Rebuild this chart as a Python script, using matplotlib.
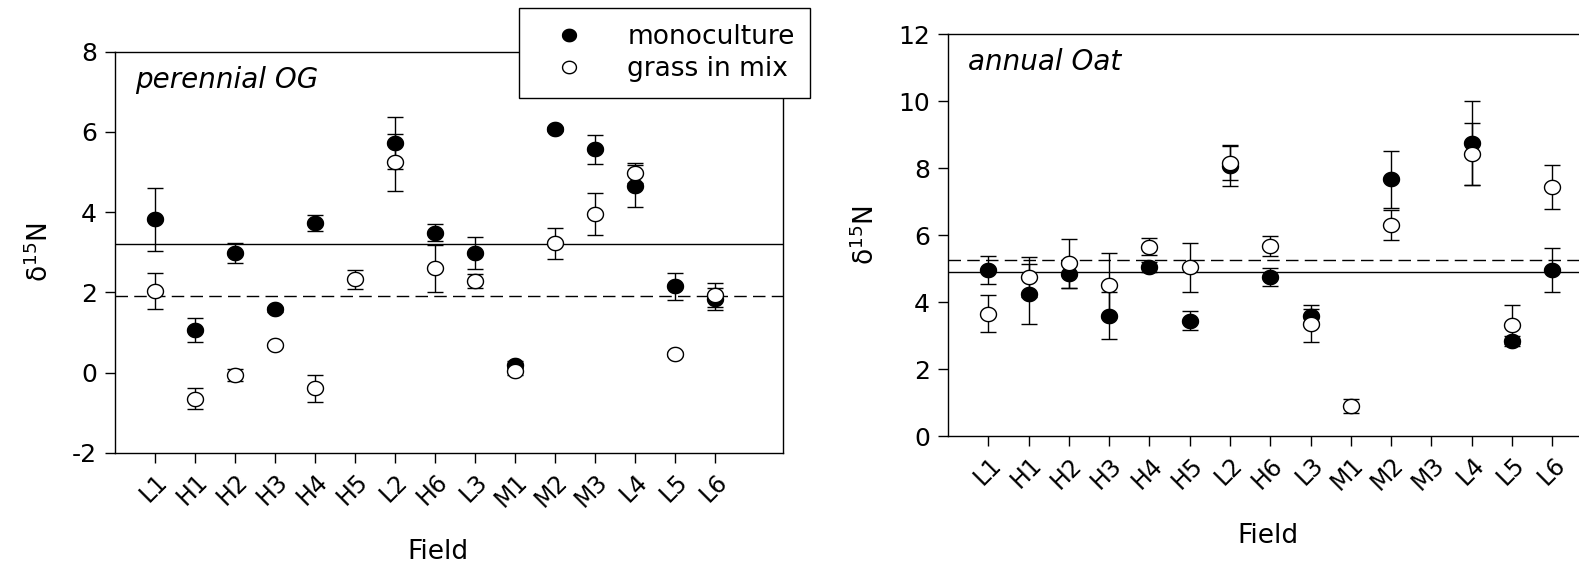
import numpy as np
import matplotlib
matplotlib.use('Agg')
import matplotlib.pyplot as plt
import matplotlib.transforms as mtransforms
from matplotlib.lines import Line2D
from matplotlib.path import Path

plt.rcParams['font.family'] = ['DejaVu Sans']
plt.rcParams['mathtext.fontset'] = 'dejavusans'
plt.rcParams['axes.unicode_minus'] = False

fields = ['L1', 'H1', 'H2', 'H3', 'H4', 'H5', 'L2', 'H6', 'L3', 'M1',
          'M2', 'M3', 'L4', 'L5', 'L6']
nan = np.nan

# perennial orchardgrass
og_mono = [3.82, 1.07, 2.97, 1.58, 3.74, nan, 5.73, 3.49, 2.99, 0.20,
           6.08, 5.57, 4.65, 2.15, 1.83]
og_mono_se = [0.78, 0.30, 0.25, 0.06, 0.20, nan, 0.65, 0.21, 0.40, 0.08,
              0.05, 0.36, 0.52, 0.33, 0.28]
og_mix = [2.04, -0.65, -0.05, 0.68, -0.39, 2.32, 5.24, 2.60, 2.28, 0.05,
          3.22, 3.95, 4.97, 0.47, 1.93]
og_mix_se = [0.45, 0.26, 0.15, 0.04, 0.34, 0.24, 0.72, 0.58, 0.18, 0.10,
             0.38, 0.52, 0.25, 0.05, 0.30]
og_mono_mean = 3.2
og_mix_mean = 1.9

# annual oat
oat_mono = [4.96, 4.24, 4.84, 3.60, 5.06, 3.45, 8.08, 4.76, 3.60, nan,
            7.67, nan, 8.75, 2.85, 4.96]
oat_mono_se = [0.42, 0.90, 0.40, 0.70, 0.15, 0.28, 0.60, 0.26, 0.20, nan,
               0.85, nan, 1.25, 0.15, 0.65]
oat_mix = [3.66, 4.76, 5.16, 4.52, 5.66, 5.04, 8.17, 5.68, 3.36, 0.90,
           6.31, nan, 8.43, 3.33, 7.45]
oat_mix_se = [0.55, 0.60, 0.72, 0.96, 0.25, 0.72, 0.53, 0.30, 0.55, 0.20,
              0.45, nan, 0.92, 0.58, 0.66]
oat_mono_mean = 4.9
oat_mix_mean = 5.25

x = np.arange(1, len(fields) + 1)

# slightly wide circle marker
t = np.linspace(0, 2 * np.pi, 61)
oval = Path(np.column_stack([1.12 * np.cos(t), np.sin(t)]), closed=True)

fig = plt.figure(figsize=(15.79, 5.64), dpi=100)
ax1 = fig.add_axes([0.0728, 0.1973, 0.423, 0.711])
ax2 = fig.add_axes([0.6004, 0.2264, 0.426, 0.7128])

FS = 19
shift = mtransforms.ScaledTranslation(9 / 100, 0, fig.dpi_scale_trans)


def panel(ax, mono, mono_se, mix, mix_se, mono_mean, mix_mean, ylim, yticks, title):
    ax.axhline(mono_mean, color='black', lw=1, zorder=1)
    ax.axhline(mix_mean, color='black', lw=1, dashes=(9, 4.5), zorder=1)
    ax.errorbar(x, mono, yerr=mono_se, fmt='none', ecolor='black', elinewidth=1,
                capsize=6, capthick=1, zorder=2)
    ax.errorbar(x, mix, yerr=mix_se, fmt='none', ecolor='black', elinewidth=1,
                capsize=6, capthick=1, zorder=2)
    ax.plot(x, mono, ls='none', marker=oval, ms=11.5, mfc='black', mec='black',
            mew=1, zorder=3)
    ax.plot(x, mix, ls='none', marker=oval, ms=11.5, mfc='white', mec='black',
            mew=1, zorder=4)
    ax.set_xlim(0, 16.7)
    ax.set_ylim(*ylim)
    ax.set_yticks(yticks)
    ax.set_xticks(x)
    ax.set_xticklabels(fields, rotation=45, ha='right', va='center',
                       rotation_mode='anchor')
    ax.tick_params(direction='out', length=7, width=1, labelsize=18, pad=6)
    ax.tick_params(axis='x', labelsize=17, pad=11)
    for lab in ax.get_xticklabels():
        lab.set_transform(lab.get_transform() + shift)
    for s in ax.spines.values():
        s.set_linewidth(1)
    ax.set_xlabel('Field', fontsize=FS, labelpad=20)
    ax.set_ylabel('δ$^{15}$N', fontsize=FS, labelpad=13)
    ax.text(0.03, 0.93, title, transform=ax.transAxes, fontsize=20,
            style='italic', ha='left', va='center')


panel(ax1, og_mono, og_mono_se, og_mix, og_mix_se, og_mono_mean, og_mix_mean,
      (-2, 8), range(-2, 9, 2), 'perennial OG')
panel(ax2, oat_mono, oat_mono_se, oat_mix, oat_mix_se, oat_mono_mean, oat_mix_mean,
      (0, 12), range(0, 13, 2), 'annual Oat')
ax1.xaxis.label.set_x(0.483)
ax2.xaxis.label.set_x(0.475)

handles = [
    Line2D([], [], ls='none', marker=oval, ms=10, mfc='black', mec='black'),
    Line2D([], [], ls='none', marker=oval, ms=10, mfc='white', mec='black'),
]
leg = fig.legend(handles, ['monoculture', 'grass in mix'], loc='upper left',
                 bbox_to_anchor=(519 / 1579, 1 - 8 / 564), fontsize=19,
                 frameon=True, fancybox=False, edgecolor='black', framealpha=1,
                 handletextpad=0.9, borderpad=0.6, labelspacing=0.25,
                 handlelength=2.6, borderaxespad=0)
leg.get_frame().set_linewidth(1)
leg.set_zorder(10)

fig.savefig('out.png', dpi=100)
